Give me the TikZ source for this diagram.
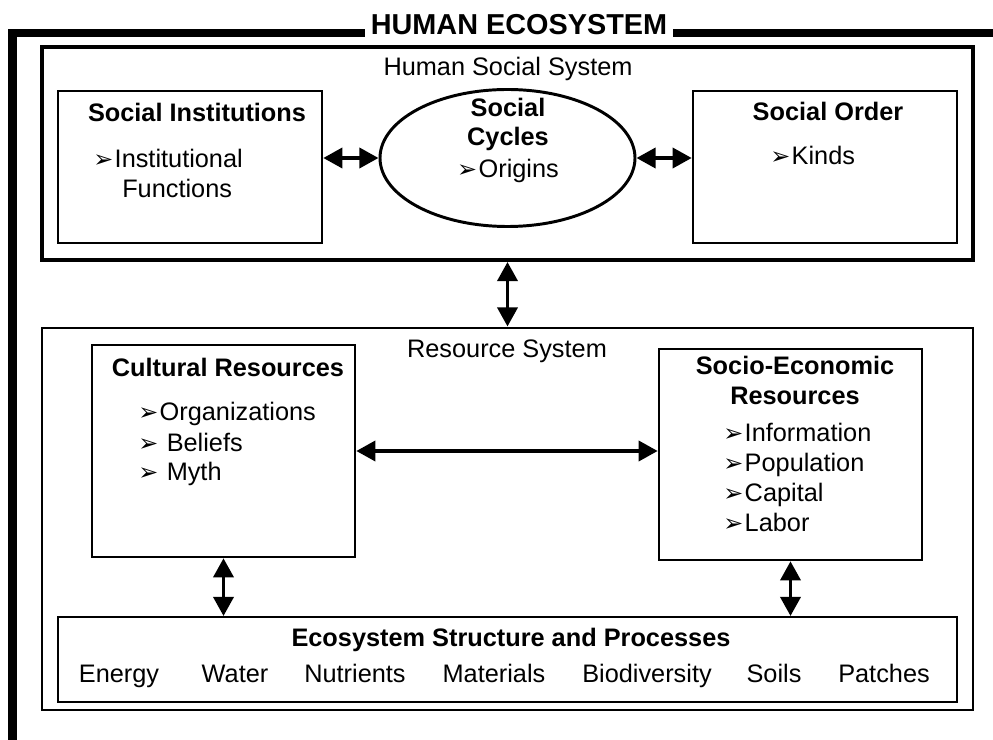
\documentclass[tikz,border=0pt]{standalone}
\usepackage{fontspec}
\setmainfont{Liberation Sans}
\newfontfamily\dingfont{DejaVu Sans}
\usetikzlibrary{arrows.meta,shapes.geometric}
% arrowhead bullet
\newcommand\itm{{\dingfont\fontsize{17}{17}\selectfont\char"27A2}\kern1pt}

\tikzset{
  txt/.style={inner sep=0pt,font=\fontsize{18}{21}\selectfont},
  hd/.style={inner sep=0pt,font=\fontsize{18}{21}\selectfont\bfseries},
  box/.style 2 args={draw,inner sep=0pt,minimum width=#1*0.025cm,minimum height=#2*0.025cm},
  arr/.style={<->,line width=2.8pt},
}

\begin{document}
\begin{tikzpicture}[x=0.025cm,y=-0.025cm,line join=miter,>={Triangle[length=4.8mm,width=5mm]}]
\useasboundingbox (0,0) rectangle (993,740);

% outer frame
\draw[line width=5.7pt] (993,33)--(12.5,33)--(12.5,740);
\node[hd,font=\fontsize{20.5}{24}\selectfont\bfseries,fill=white,anchor=base,inner xsep=4pt,inner ysep=2pt] (title) at (519,35) {HUMAN ECOSYSTEM};

% human social system
\node[box={931}{213},line width=2.8pt] (hss) at (507.5,153.5) {};
\node[txt,anchor=base] (hsslbl) at (508,76) {Human Social System};

\node[box={264}{152},line width=1.8pt] (inst) at (190,167) {};
\node[hd,anchor=base] (insthd) at (197,122) {Social Institutions};
\node[txt,anchor=base west] (inst1) at (93,168) {\itm Institutional};
\node[txt,anchor=base west] (inst2) at (122,198) {Functions};

\node[ellipse,draw,line width=2.1pt,inner sep=0pt,minimum width=255*0.025cm,minimum height=137*0.025cm] (cyc) at (507.5,158) {};
\node[hd,anchor=base] (cychd1) at (508,117) {Social};
\node[hd,anchor=base] (cychd2) at (508,146) {Cycles};
\node[txt,anchor=base] (cyc1) at (508,178) {\itm Origins};

\node[box={264}{152},line width=1.8pt] (ord) at (825,167) {};
\node[hd,anchor=base] (ordhd) at (828,121) {Social Order};
\node[txt,anchor=base west] (ord1) at (770,165) {\itm Kinds};

\draw[arr] (inst.east |- cyc.west)--(cyc.west);
\draw[arr] (cyc.east)--(ord.west |- cyc.east);

% resource system
\node[box={931}{382},line width=2.1pt] (rs) at (507.5,519) {};
\node[txt,anchor=base] (rslbl) at (507,358) {Resource System};

\node[box={263}{212},line width=1.8pt] (cult) at (223.5,451) {};
\node[hd,anchor=base] (culthd) at (228,377) {Cultural Resources};
\node[txt,anchor=base west] (cult1) at (138,421) {\itm Organizations};
\node[txt,anchor=base west] (cult2) at (138,452) {\itm\ Beliefs};
\node[txt,anchor=base west] (cult3) at (138,481) {\itm\ Myth};

\node[box={263}{211},line width=1.8pt] (soc) at (790.5,454.5) {};
\node[hd,anchor=base] (sochd1) at (795,375) {Socio-Economic};
\node[hd,anchor=base] (sochd2) at (795,405) {Resources};
\foreach \t [count=\i] in {Information,Population,Capital,Labor}
  \node[txt,anchor=base west] (soc\i) at (723,{412+30*\i}) {\itm\t};

\node[box={899}{85},line width=1.4pt] (eco) at (507.5,659.5) {};
\node[hd,anchor=base] (ecohd) at (511,646) {Ecosystem Structure and Processes};
\foreach \t/\x in {Energy/119,Water/235,Nutrients/355,Materials/494,Biodiversity/647,Soils/774,Patches/884}
  \node[txt,anchor=base] (eco-\t) at (\x,682) {\t};

\draw[arr] (hss.south)--(rs.north);
\draw[arr] (cult.east)--(cult.east -| soc.west);
\draw[arr] (cult.south)--(cult.south |- eco.north);
\draw[arr] (soc.south)--(soc.south |- eco.north);
\end{tikzpicture}
\end{document}
